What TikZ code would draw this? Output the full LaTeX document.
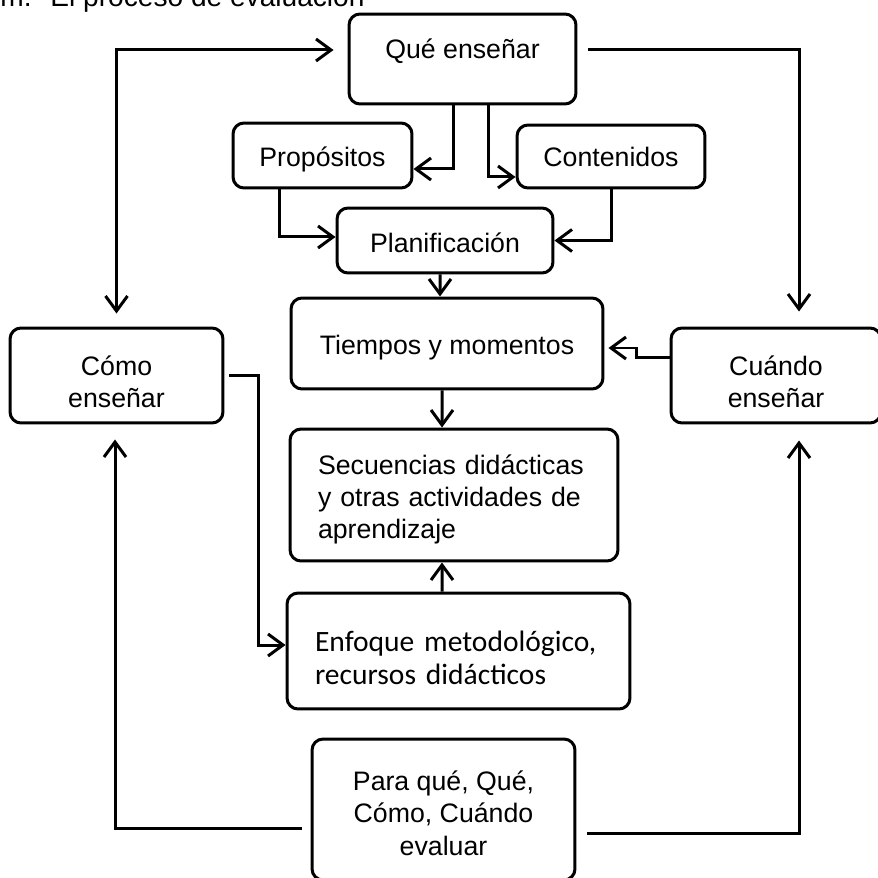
\documentclass[tikz,border=0pt]{standalone}
\usepackage{fontspec}
\setmainfont{Liberation Sans}
\newfontfamily\carlito{Carlito}
\usetikzlibrary{positioning, arrows.meta}

\tikzset{
  caja/.style={draw, line width=0.06cm, rounded corners=0.22cm, align=center, inner sep=0pt,
    text depth=0cm, font=\fontsize{15.2}{18.4}\selectfont},
  flecha/.style={line width=0.06cm, -{Straight Barb[length=0.3cm, width=0.44cm]}},
  doble/.style={line width=0.06cm, {Straight Barb[length=0.3cm, width=0.44cm]}-{Straight Barb[length=0.3cm, width=0.44cm]}}
}

\begin{document}
\begin{tikzpicture}[x=0.02cm, y=-0.02cm]
    \useasboundingbox (0,0) rectangle (877,878);

    % Title, cut at the top
    \node[anchor=base west, inner sep=0pt, font=\fontsize{16}{18.4}\selectfont] (titulo) at (0,7) {m.\hspace{0.3em} El proceso de evaluación};

    % Boxes
    \node[caja, minimum width=4.54cm, minimum height=1.8cm, text height=0cm] (que) at (462.5,59) {Qué enseñar};
    \node[caja, minimum width=3.58cm, minimum height=1.3cm, text height=0.46cm] (prop) at (322.5,155.5) {Propósitos};
    \node[caja, minimum width=3.76cm, minimum height=1.26cm, text height=0.42cm] (cont) at (611,156.5) {Contenidos};
    \node[caja, minimum width=4.32cm, minimum height=1.3cm, text height=0.5cm] (plan) at (445,240.5) {Planificación};
    \node[caja, minimum width=6.24cm, minimum height=1.82cm, text height=0.46cm] (tiem) at (447,343.5) {Tiempos y momentos};
    \node[caja, minimum width=4.26cm, minimum height=1.9cm, text height=1.3cm] (como) at (116.5,375.5) {Cómo\\enseñar};
    \node[caja, minimum width=4.2cm, minimum height=1.9cm, text height=1.3cm] (cuando) at (776,375.5) {Cuándo\\enseñar};
    \node[caja, minimum width=6.56cm, minimum height=2.64cm, text width=5.44cm, align=left,
      text height=0cm, text depth=0.84cm] (secu) at (454,495)
      {Secuencias didácticas\\y otras actividades de\\aprendizaje};
    \node[caja, minimum width=6.86cm, minimum height=2.32cm, text width=5.74cm, align=left,
      text height=0cm, text depth=0cm, font=\carlito\fontsize{16.8}{18.8}\selectfont] (enfo) at (458.5,651)
      {Enfoque metodológico,\\recursos didácticos};
    \node[caja, minimum width=5.26cm, minimum height=2.82cm, text height=1.82cm] (para) at (443.5,809.5)
      {Para qué, Qué,\\Cómo, Cuándo\\evaluar};

    % Outer loop
    \draw[doble, shorten <=0.28cm, shorten >=0.26cm] ([yshift=0.18cm]que.west) -| (como.north);
    \draw[flecha, shorten <=0.22cm, shorten >=0.3cm] ([yshift=0.18cm]que.east) -| ([xshift=0.46cm]cuando.north);
    \draw[flecha, shorten <=0.18cm, shorten >=0.3cm] ([yshift=-0.37cm]para.west) -| ([xshift=-0.03cm]como.south);
    \draw[flecha, shorten <=0.22cm, shorten >=0.32cm] ([yshift=-0.47cm]para.east) -| ([xshift=0.46cm]cuando.south);

    % Inner arrows
    \draw[flecha] ([xshift=-0.19cm]que.south) |- ([yshift=-0.27cm]prop.east);
    \draw[flecha] ([xshift=0.51cm]que.south) |- ([yshift=-0.41cm]cont.west);
    \draw[flecha] ([xshift=-0.87cm]prop.south) |- ([yshift=0.07cm]plan.west);
    \draw[flecha] (cont.south) |- (plan.east);
    \draw[flecha] ([xshift=-0.1cm]plan.south) -- ([xshift=-0.14cm]tiem.north);
    \draw[flecha] ([xshift=-0.1cm]tiem.south) -- ([xshift=-0.24cm]secu.north);
    \draw[flecha] ([xshift=-0.33cm]enfo.north) -- ([xshift=-0.24cm]secu.south);
    \draw[flecha, shorten >=0.08cm] ([yshift=0.37cm]cuando.west) -- ++(-33,0) |- ([yshift=-0.09cm]tiem.east);
    \draw[flecha, shorten <=0.1cm] (como.east) -- ++(34,0) |- ([yshift=0.12cm]enfo.west);

\end{tikzpicture}
\end{document}
